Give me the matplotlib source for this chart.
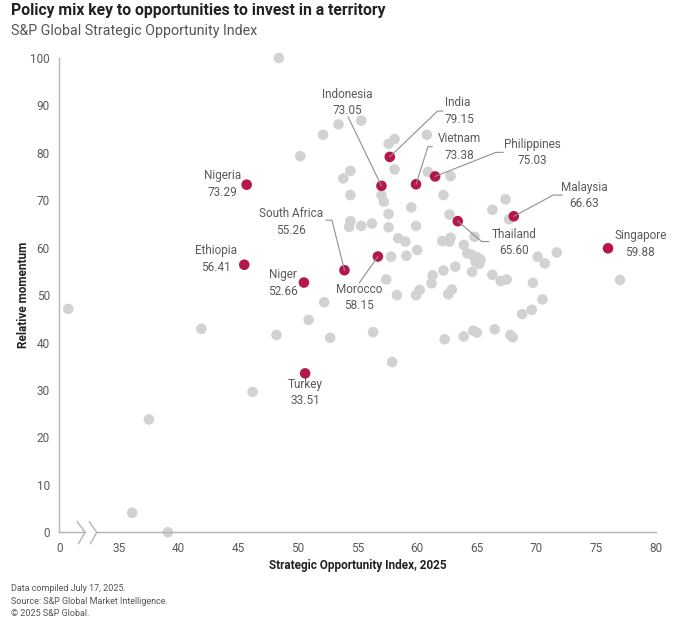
import numpy as np
import matplotlib
matplotlib.use('Agg')
import matplotlib.pyplot as plt

plt.rcParams['font.family'] = ['Roboto', 'DejaVu Sans']

# grey markets: strategic opportunity index (x), relative momentum (y)
grey_x = [48.4, 53.4, 52.1, 50.2, 53.8, 54.4, 55.3, 57.6, 58.1, 60.8,
          58.1, 60.9, 62.8, 54.4, 57.0, 57.2, 62.2, 57.6, 59.5, 62.7,
          66.3, 67.4, 67.7, 54.4, 54.3, 55.3, 56.2, 57.6, 59.9, 58.4,
          59.0, 62.1, 62.8, 62.7, 64.8, 63.9, 64.2, 64.6, 65.0, 65.3,
          64.9, 65.2, 60.0, 59.1, 57.8, 70.1, 70.7, 71.7, 57.4, 58.3,
          59.9, 60.2, 61.2, 61.3, 62.2, 63.2, 64.6, 62.6, 62.9, 66.3,
          67.0, 67.5, 69.7, 68.8, 69.6, 70.5, 77.0, 52.7, 56.3, 62.3,
          63.9, 64.7, 65.0, 66.5, 67.8, 68.0, 57.9, 41.9, 48.2, 50.9,
          52.2, 46.2, 37.5, 36.1, 39.1, 5.2]
grey_y = [100.0, 86.0, 83.8, 79.3, 74.6, 76.2, 86.8, 81.9, 82.9, 83.8,
          76.5, 76.0, 75.1, 71.1, 71.1, 69.7, 71.1, 67.1, 68.5, 67.0,
          68.0, 70.2, 66.0, 65.6, 64.4, 64.6, 65.1, 64.3, 64.6, 62.0,
          61.3, 61.4, 62.1, 61.3, 62.3, 60.6, 58.8, 58.5, 58.0, 57.5,
          57.0, 56.6, 59.5, 58.3, 58.1, 58.1, 56.7, 59.0, 53.3, 50.0,
          50.0, 51.1, 52.5, 54.2, 55.2, 56.0, 54.9, 50.2, 51.2, 54.3,
          53.0, 53.3, 52.6, 46.0, 46.9, 49.1, 53.2, 41.0, 42.2, 40.7,
          41.3, 42.5, 42.1, 42.8, 41.6, 41.1, 35.9, 42.9, 41.6, 44.8,
          48.5, 29.6, 23.8, 4.1, 0.0, 47.1]

# highlighted markets
names = ['Nigeria', 'Ethiopia', 'Niger', 'Turkey', 'South Africa', 'Morocco',
         'Indonesia', 'India', 'Vietnam', 'Philippines', 'Thailand',
         'Malaysia', 'Singapore']
red_x = [45.7, 45.5, 50.5, 50.6, 53.9, 56.7, 57.0, 57.7, 59.9, 61.5, 63.4, 68.1, 76.0]
red_y = [73.29, 56.41, 52.66, 33.51, 55.26, 58.15, 73.05, 79.15, 73.38, 75.03, 65.60, 66.63, 59.88]

# label placement: (text x, text y, ha, leader line points before the marker)
label_pos = {
    'Nigeria': (43.65, 73.4, 'center', []),
    'Ethiopia': (43.15, 57.6, 'center', []),
    'Niger': (48.7, 52.6, 'center', []),
    'Turkey': (50.6, 29.5, 'center', []),
    'South Africa': (49.4, 65.4, 'center', [(52.35, 65.8), (52.85, 65.8)]),
    'Morocco': (55.15, 49.5, 'center', [(55.15, 52.6)]),
    'Indonesia': (54.15, 90.6, 'center', [(54.2, 87.6)]),
    'India': (62.3, 88.8, 'left', [(62.15, 88.8), (61.7, 88.8)]),
    'Vietnam': (63.5, 81.2, 'center', [(61.25, 81.3), (60.9, 81.3)]),
    'Philippines': (69.65, 80.1, 'center', [(67.2, 80.1), (66.6, 80.1)]),
    'Thailand': (68.1, 61.1, 'center', [(66.0, 61.3), (65.4, 61.3)]),
    'Malaysia': (74.0, 71.0, 'center', [(72.15, 71.1), (71.4, 71.1)]),
    'Singapore': (78.7, 60.8, 'center', []),
}

red = '#b5174b'
grey_pt = '#d2d2d2'
axis_col = '#b4b4b4'
txt_col = '#5a5a5a'


def fwd(x):
    x = np.asarray(x, dtype=float)
    return np.where(x < 35, 30 + x / 7.0, x)


def inv(x):
    x = np.asarray(x, dtype=float)
    return np.where(x < 35, (x - 30) * 7.0, x)


fig = plt.figure(figsize=(6.87, 6.23), dpi=100)
ax = fig.add_axes([0.0865, 0.1456, 0.868, 0.7613])
ax.set_xscale('function', functions=(fwd, inv))
ax.set_xlim(0, 80)
ax.set_ylim(0, 100)

ax.scatter(grey_x, grey_y, s=58, color=grey_pt, edgecolors='none', zorder=2, clip_on=False)
ax.scatter(red_x, red_y, s=58, color=red, edgecolors='none', zorder=3, clip_on=False)

for name, x, y in zip(names, red_x, red_y):
    tx, ty, ha, path = label_pos[name]
    ax.text(tx, ty, f'{name}\n{y:.2f}', ha=ha, va='center', fontsize=8.5,
            color=txt_col, linespacing=1.35, zorder=5)
    if path:
        px = [p[0] for p in path] + [x]
        py = [p[1] for p in path] + [y]
        ax.plot(px, py, color='#8f8f8f', lw=0.8, zorder=4)

ax.set_xticks([0, 35, 40, 45, 50, 55, 60, 65, 70, 75, 80])
ax.set_xticklabels(['0', '35', '40', '45', '50', '55', '60', '65', '70', '75', '80'])
ax.set_yticks(range(0, 101, 10))
ax.tick_params(length=0, labelsize=8.5, labelcolor=txt_col, pad=7)

for s in ['top', 'right', 'bottom']:
    ax.spines[s].set_visible(False)
ax.spines['left'].set_color(axis_col)
ax.spines['left'].set_linewidth(1)

# bottom axis with break marks
tr = ax.transAxes
ax.plot([0, 0.043], [0, 0], color=axis_col, lw=1, transform=tr, clip_on=False)
ax.plot([0.0626, 1], [0, 0], color=axis_col, lw=1, transform=tr, clip_on=False)
ax.plot([0.030, 0.043, 0.032], [0.0223, 0, -0.024], color=axis_col, lw=1,
        transform=tr, clip_on=False)
ax.plot([0.050, 0.0626, 0.052], [0.0223, 0, -0.024], color=axis_col, lw=1,
        transform=tr, clip_on=False)

ax.set_xlabel('Strategic Opportunity Index, 2025', fontsize=8.5, fontweight='bold',
              color='#222222', labelpad=3)
ax.set_ylabel('Relative momentum', fontsize=8.5, fontweight='bold', color='#222222')
ax.yaxis.set_label_coords(-0.05, 0.5)

fig.text(0.016, 0.995, 'Policy mix key to opportunities to invest in a territory',
         fontsize=11.3, fontweight='bold', color='#222222', va='top')
fig.text(0.016, 0.962, 'S&P Global Strategic Opportunity Index', fontsize=10.3,
         color='#555555', va='top')
fig.text(0.016, 0.062, 'Data compiled July 17, 2025.\nSource: S&P Global Market Intelligence.\n\u00a9 2025 S&P Global.',
         fontsize=6.5, color='#555555', va='top', linespacing=1.45)

fig.savefig('out.png', dpi=100)
